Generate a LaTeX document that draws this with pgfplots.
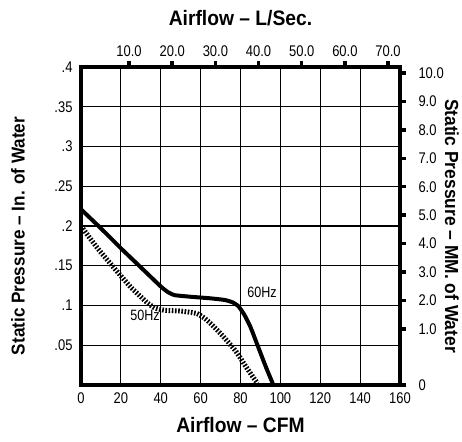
\documentclass[border=0pt]{standalone}
\usepackage{fontspec}
\setmainfont{Liberation Sans}[FakeStretch=0.84]
\newfontfamily\titlefont{Liberation Sans}[FakeStretch=0.92]
\usepackage{pgfplots}
\pgfplotsset{compat=1.18}
\begin{document}
\begin{tikzpicture}
\begin{axis}[
  name=main,
  scale only axis, width=319bp, height=318bp,
  xmin=0, xmax=160, ymin=0, ymax=0.4,
  xtick={0,20,40,60,80,100,120,140,160},
  xticklabels={0,20,40,60,80,100,120,140,160},
  ytick={0.05,0.1,0.15,0.2,0.25,0.3,0.35,0.4},
  yticklabels={.05,.1,.15,.2,.25,.3,.35,.4},
  grid=major, major grid style={black, line width=1.1bp},
  axis line style={draw=none},
  major tick length=0pt,
  tick label style={font=\fontsize{15.5}{15.5}\selectfont, black},
  xticklabel style={yshift=-4bp},
  yticklabel style={xshift=-5bp},
]
% 60 Hz
\addplot[black, line width=4bp, line join=round, smooth, tension=0.3] coordinates {
  (0,0.221) (10,0.197) (20,0.172) (30,0.148) (40,0.124) (43.5,0.117) (47,0.113)
  (55,0.111) (65,0.109) (72,0.107) (76,0.104) (79,0.099) (82,0.088)
  (85,0.073) (89,0.047) (93,0.021) (96.5,0)
};
% 50 Hz
\addplot[black, line width=5bp, dash pattern=on 1.6bp off 1.6bp, smooth, tension=0.3] coordinates {
  (0,0.200) (8,0.173) (17,0.146) (25,0.123) (33,0.104) (37,0.097) (42,0.094)
  (50,0.093) (58,0.090) (62,0.084) (66,0.075) (71,0.062) (77.5,0.043)
  (83,0.022) (88.5,0.002)
};
\node[font=\fontsize{15}{15}\selectfont] at (axis cs:90.8,0.117) {60Hz};
\node[font=\fontsize{15}{15}\selectfont] at (axis cs:32.1,0.087) {50Hz};
\end{axis}
\begin{axis}[
  scale only axis, width=319bp, height=318bp,
  xmin=0, xmax=160, ymin=0, ymax=0.4,
  axis x line*=top, axis y line*=right,
  axis line style={draw=none},
  xtick={24.1,45.75,67.4,89.05,110.7,132.35,154.0},
  xticklabels={10.0,20.0,30.0,40.0,50.0,60.0,70.0},
  ytick={0,0.0704,0.1062,0.1420,0.1778,0.2136,0.2494,0.2852,0.3209,0.3567,0.3925},
  yticklabels={0,1.0,2.0,3.0,4.0,5.0,6.0,7.0,8.0,9.0,10.0},
  tick align=outside, major tick length=6bp,
  every tick/.style={black, line width=3.5bp},
  tick label style={font=\fontsize{15.5}{15.5}\selectfont, black},
  xticklabel style={yshift=1bp},
  yticklabel style={xshift=9bp},
]
\end{axis}
\draw[black, line width=4bp] (main.south west) rectangle (main.north east);
\node[font=\titlefont\bfseries\fontsize{21}{21}\selectfont] at ([yshift=-40bp]main.south) {Airflow – CFM};
\node[font=\titlefont\bfseries\fontsize{21}{21}\selectfont] at ([yshift=49bp]main.north) {Airflow – L/Sec.};
\node[font=\titlefont\bfseries\fontsize{18.7}{18.7}\selectfont, rotate=90] at ([xshift=-63bp,yshift=-10bp]main.west) {Static Pressure – In. of Water};
\node[font=\titlefont\bfseries\fontsize{19}{19}\selectfont, rotate=-90] at ([xshift=52bp]main.east) {Static Pressure – MM. of Water};
\pgfresetboundingbox
\path[use as bounding box] ([shift={(-81bp,-57bp)}]main.south west) rectangle ([shift={(62bp,67bp)}]main.north east);
\end{tikzpicture}
\end{document}
